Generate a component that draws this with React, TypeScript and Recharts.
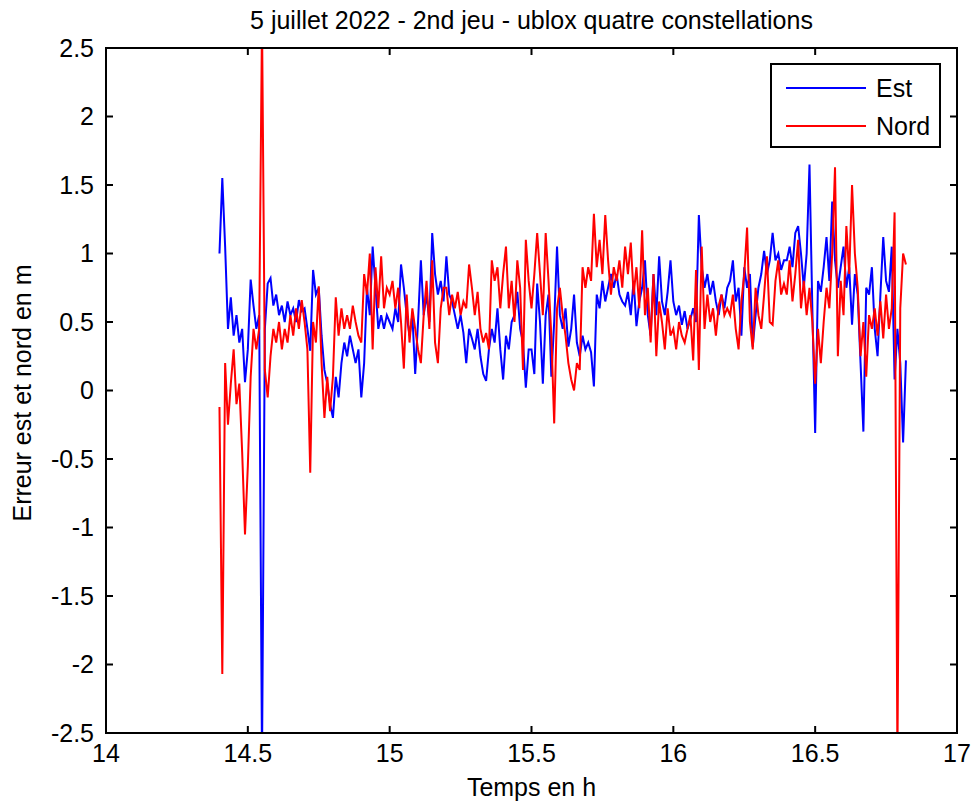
import { LineChart, Line, XAxis, YAxis, Legend, Label } from 'recharts';

// temps en heures (pas de 0.01 h)
const TIME = [
  14.40, 14.41, 14.42, 14.43, 14.44, 14.45, 14.46, 14.47, 14.48, 14.49,
  14.50, 14.51, 14.52, 14.53, 14.54, 14.55, 14.56, 14.57, 14.58, 14.59,
  14.60, 14.61, 14.62, 14.63, 14.64, 14.65, 14.66, 14.67, 14.68, 14.69,
  14.70, 14.71, 14.72, 14.73, 14.74, 14.75, 14.76, 14.77, 14.78, 14.79,
  14.80, 14.81, 14.82, 14.83, 14.84, 14.85, 14.86, 14.87, 14.88, 14.89,
  14.90, 14.91, 14.92, 14.93, 14.94, 14.95, 14.96, 14.97, 14.98, 14.99,
  15.00, 15.01, 15.02, 15.03, 15.04, 15.05, 15.06, 15.07, 15.08, 15.09,
  15.10, 15.11, 15.12, 15.13, 15.14, 15.15, 15.16, 15.17, 15.18, 15.19,
  15.20, 15.21, 15.22, 15.23, 15.24, 15.25, 15.26, 15.27, 15.28, 15.29,
  15.30, 15.31, 15.32, 15.33, 15.34, 15.35, 15.36, 15.37, 15.38, 15.39,
  15.40, 15.41, 15.42, 15.43, 15.44, 15.45, 15.46, 15.47, 15.48, 15.49,
  15.50, 15.51, 15.52, 15.53, 15.54, 15.55, 15.56, 15.57, 15.58, 15.59,
  15.60, 15.61, 15.62, 15.63, 15.64, 15.65, 15.66, 15.67, 15.68, 15.69,
  15.70, 15.71, 15.72, 15.73, 15.74, 15.75, 15.76, 15.77, 15.78, 15.79,
  15.80, 15.81, 15.82, 15.83, 15.84, 15.85, 15.86, 15.87, 15.88, 15.89,
  15.90, 15.91, 15.92, 15.93, 15.94, 15.95, 15.96, 15.97, 15.98, 15.99,
  16.00, 16.01, 16.02, 16.03, 16.04, 16.05, 16.06, 16.07, 16.08, 16.09,
  16.10, 16.11, 16.12, 16.13, 16.14, 16.15, 16.16, 16.17, 16.18, 16.19,
  16.20, 16.21, 16.22, 16.23, 16.24, 16.25, 16.26, 16.27, 16.28, 16.29,
  16.30, 16.31, 16.32, 16.33, 16.34, 16.35, 16.36, 16.37, 16.38, 16.39,
  16.40, 16.41, 16.42, 16.43, 16.44, 16.45, 16.46, 16.47, 16.48, 16.49,
  16.50, 16.51, 16.52, 16.53, 16.54, 16.55, 16.56, 16.57, 16.58, 16.59,
  16.60, 16.61, 16.62, 16.63, 16.64, 16.65, 16.66, 16.67, 16.68, 16.69,
  16.70, 16.71, 16.72, 16.73, 16.74, 16.75, 16.76, 16.77, 16.78, 16.79,
  16.80, 16.81, 16.82,
];

// erreur est (m)
const EST = [
  1.0, 1.55, 1.05, 0.45, 0.68, 0.4, 0.55, 0.35, 0.45, 0.06,
  0.3, 0.81, 0.62, 0.45, 0.55, -2.7, 0.45, 0.78, 0.82, 0.62,
  0.7, 0.55, 0.62, 0.5, 0.65, 0.55, 0.6, 0.5, 0.66, 0.58,
  0.6, 0.45, 0.29, 0.88, 0.7, 0.75, 0.4, 0.15, 0.05, -0.1,
  -0.2, 0.1, -0.05, 0.2, 0.35, 0.25, 0.4, 0.3, 0.2, 0.3,
  -0.05, 0.2, 0.75, 0.55, 1.05, 0.75, 0.45, 0.55, 0.45, 0.55,
  0.5, 0.45, 0.6, 0.5, 0.92, 0.75, 0.55, 0.4, 0.55, 0.12,
  0.5, 0.95, 0.55, 0.7, 0.5, 1.15, 0.85, 0.7, 0.8, 0.65,
  0.98, 0.7, 0.65, 0.55, 0.45, 0.55, 0.42, 0.2, 0.45, 0.38,
  0.3, 0.45, 0.25, 0.12, 0.07, 0.3, 0.45, 0.35, 0.6, 0.3,
  0.08, 0.4, 0.3, 0.5, 0.55, 0.72, 0.45, 0.35, 0.02, 0.3,
  0.3, 0.12, 0.78, 0.5, 0.05, 0.55, 0.7, 0.1, 0.5, 1.05,
  0.55, 0.45, 0.6, 0.32, 0.45, 0.7, 0.35, 0.25, 0.4, 0.3,
  0.35, 0.28, 0.03, 0.7, 0.6, 0.8, 0.65, 0.75, 0.85, 0.75,
  0.85, 0.7, 0.65, 0.62, 0.72, 0.55, 0.8, 0.47, 0.65, 0.75,
  0.95, 0.55, 0.4, 0.85, 0.55, 0.98, 0.65, 0.55, 0.72, 0.95,
  0.65, 0.55, 0.62, 0.48, 0.58, 0.45, 0.52, 0.6, 0.5, 1.28,
  0.9, 0.75, 0.85, 0.7, 0.8, 0.65, 0.55, 0.7, 0.6, 0.75,
  0.8, 0.95, 0.65, 0.75, 0.4, 0.9, 0.75, 0.85, 0.32, 0.55,
  0.75, 0.85, 1.02, 0.85, 0.95, 1.15, 0.95, 1.0, 0.88, 0.95,
  0.95, 1.05, 0.9, 1.15, 1.2, 1.0, 0.75, 1.0, 1.65, 0.6,
  -0.31, 0.8, 0.72, 0.9, 1.12, 0.8, 1.38, 0.95, 0.75, 0.9,
  1.05, 0.75, 0.9, 0.48, 0.85, 0.7, 0.2, -0.3, 0.75, 0.7,
  0.9, 0.45, 0.25, 0.7, 1.12, 0.8, 0.72, 1.05, 0.08, 0.45,
  0.2, -0.38, 0.22,
];

// erreur nord (m)
const NORD = [
  -0.12, -2.07, 0.2, -0.25, 0.05, 0.3, -0.1, 0.05, -0.45, -1.05,
  -0.55, 0.1, 0.45, 0.3, 0.45, 2.7, 0.15, -0.05, 0.25, 0.45,
  0.35, 0.5, 0.3, 0.45, 0.35, 0.55, 0.4, 0.6, 0.45, 0.66,
  0.5, 0.3, -0.6, 0.5, 0.35, 0.76, 0.2, -0.2, 0.1, -0.15,
  0.1, 0.68, 0.4, 0.6, 0.45, 0.55, 0.45, 0.62, 0.5, 0.4,
  0.35, 0.85, 0.7, 1.0, 0.3, 0.9, 0.6, 0.98, 0.6, 0.75,
  0.7, 0.8, 0.6, 0.75, 0.5, 0.16, 0.7, 0.35, 0.6, 0.45,
  0.3, 0.2, 0.55, 0.8, 0.45, 0.95, 0.35, 0.2, 0.6, 0.75,
  0.75, 0.55, 0.7, 0.6, 0.72, 0.55, 0.65, 0.6, 0.92, 0.75,
  0.55, 0.72, 0.45, 0.35, 0.42, 0.3, 0.95, 0.8, 0.9, 0.6,
  0.85, 1.05, 0.6, 0.8, 0.5, 0.95, 0.75, 0.15, 1.1, 0.8,
  0.6, 0.85, 1.15, 0.85, 0.55, 1.15, 0.8, 0.4, -0.24, 0.6,
  0.75, 0.55, 0.4, 0.2, 0.08, 0.0, 0.2, 0.15, 0.9, 0.75,
  0.9, 0.8, 1.29, 0.9, 1.1, 0.85, 1.28, 0.95, 0.7, 0.9,
  0.8, 0.95, 0.75, 1.05, 0.85, 1.08, 0.7, 0.9, 0.6, 1.17,
  0.55, 0.75, 0.35, 0.85, 0.25, 0.65, 0.5, 0.3, 0.6, 0.4,
  0.45, 0.3, 0.5, 0.4, 0.35, 0.45, 0.55, 0.22, 0.88, 0.15,
  1.05, 0.45, 0.7, 0.5, 0.6, 0.4, 0.62, 0.7, 0.55, 0.6,
  0.55, 0.7, 0.45, 0.3, 0.65, 0.85, 1.19, 0.5, 0.3, 0.75,
  0.55, 0.45, 0.7, 0.98, 0.5, 0.48, 0.8, 0.95, 0.7, 0.78,
  0.7, 0.95, 0.65, 0.85, 1.1, 0.6, 0.8, 0.55, 0.75, 0.5,
  0.05, 0.45, 0.2, 0.5, 0.75, 0.6, 1.0, 1.63, 0.25, 0.8,
  0.55, 1.2, 0.85, 1.5, 1.0, 0.75, 0.25, 0.5, 0.1, 0.55,
  0.45, 0.6, 0.4, 0.65, 0.38, 0.7, 0.45, 0.6, 1.3, -2.7,
  0.6, 1.0, 0.92,
];

const X_DOMAIN = [14, 17];
const Y_DOMAIN = [-2.5, 2.5];
const X_TICKS = [14, 14.5, 15, 15.5, 16, 16.5, 17];
const Y_TICKS = [-2.5, -2, -1.5, -1, -0.5, 0, 0.5, 1, 1.5, 2, 2.5];

const TITLE = '5 juillet 2022 - 2nd jeu - ublox quatre constellations';
const X_LABEL = 'Temps en h';
const Y_LABEL = 'Erreur est et nord en m';

const FONT = '"Liberation Sans", Arial, sans-serif';
const FS = 25;
const TICK_LEN = 7;
const FRAME_W = 2;

// zone de tracé (déduite des marges ci-dessous)
const W = 977;
const H = 807;
const M = { top: 48, right: 20, left: 106, bottom: 74 };
const PLOT = { left: M.left, right: W - M.right, top: M.top, bottom: H - M.bottom };

const data = TIME.map((t, i) => ({ t, est: EST[i], nord: NORD[i] }));

const axisLine = { stroke: '#000', strokeWidth: FRAME_W };

// position d'une graduation dans le cadre (même échelle linéaire que les axes)
const px = (v: number) =>
  PLOT.left + ((v - X_DOMAIN[0]) / (X_DOMAIN[1] - X_DOMAIN[0])) * (PLOT.right - PLOT.left);
const py = (v: number) =>
  PLOT.bottom - ((v - Y_DOMAIN[0]) / (Y_DOMAIN[1] - Y_DOMAIN[0])) * (PLOT.bottom - PLOT.top);

// cadre + graduations intérieures sur les quatre côtés (style MATLAB)
function AxesBox() {
  const d =
    X_TICKS.map((t) => `M${px(t)},${PLOT.bottom}V${PLOT.bottom - TICK_LEN}M${px(t)},${PLOT.top}V${PLOT.top + TICK_LEN}`).join('') +
    Y_TICKS.map((v) => `M${PLOT.left},${py(v)}H${PLOT.left + TICK_LEN}M${PLOT.right},${py(v)}H${PLOT.right - TICK_LEN}`).join('');
  return (
    <svg width={W} height={H} style={{ position: 'absolute', left: 0, top: 0, pointerEvents: 'none' }}>
      <rect x={PLOT.left} y={PLOT.top} width={PLOT.right - PLOT.left} height={PLOT.bottom - PLOT.top}
        fill="none" stroke="#000" strokeWidth={FRAME_W} />
      <path d={d} stroke="#000" strokeWidth={FRAME_W} fill="none" />
    </svg>
  );
}

function TitleLabel() {
  return (
    <text x={(PLOT.left + PLOT.right) / 2} y={29} textAnchor="middle"
      fontSize={FS} fontFamily={FONT} fill="#000">{TITLE}</text>
  );
}

function XLabel() {
  return (
    <text x={(PLOT.left + PLOT.right) / 2} y={796} textAnchor="middle"
      fontSize={FS} fontFamily={FONT} fill="#000">{X_LABEL}</text>
  );
}

function YLabel() {
  return (
    <text x={31} y={393} transform="rotate(-90, 31, 393)" textAnchor="middle"
      fontSize={FS} fontFamily={FONT} fill="#000">{Y_LABEL}</text>
  );
}

function LegendBox({ payload }: any) {
  return (
    <svg width={171} height={85} style={{ display: 'block' }}>
      <rect x={1} y={1} width={169} height={83} fill="#fff" stroke="#000" strokeWidth={FRAME_W} />
      {(payload || []).map((p: any, i: number) => (
        <g key={p.value}>
          <line x1={16} x2={96} y1={25 + i * 38} y2={25 + i * 38} stroke={p.color} strokeWidth={2} />
          <text x={106} y={34 + i * 38} fontSize={FS} fontFamily={FONT} fill="#000">{p.value}</text>
        </g>
      ))}
    </svg>
  );
}

const tickStyle = { fontSize: FS, fill: '#000', fontFamily: FONT };

export default function App() {
  return (
    <div style={{ position: 'absolute', left: 0, top: 0, width: W, height: H, background: '#fff' }}>
      <LineChart width={W} height={H} data={data}
        margin={{ top: M.top, right: M.right, left: 0, bottom: 0 }}>
        <XAxis dataKey="t" type="number" domain={X_DOMAIN} ticks={X_TICKS} interval={0}
          height={M.bottom} tickSize={0} tickMargin={11} tick={tickStyle} tickLine={false}
          axisLine={axisLine} allowDataOverflow>
          <Label content={<XLabel />} />
        </XAxis>
        <YAxis type="number" domain={Y_DOMAIN} ticks={Y_TICKS} interval={0} width={M.left}
          tickSize={0} tickMargin={12} tick={tickStyle} tickLine={false} axisLine={axisLine}
          allowDataOverflow>
          <Label content={<YLabel />} />
          <Label content={<TitleLabel />} />
        </YAxis>
        <Legend layout="vertical" align="center" verticalAlign="middle" width={171} height={85}
          wrapperStyle={{ left: 770, top: 63 }} content={<LegendBox />} />
        <Line dataKey="est" name="Est" stroke="#0000ff" strokeWidth={2} dot={false}
          activeDot={false} isAnimationActive={false} />
        <Line dataKey="nord" name="Nord" stroke="#ff0000" strokeWidth={2} dot={false}
          activeDot={false} isAnimationActive={false} />
      </LineChart>
      <AxesBox />
    </div>
  );
}
